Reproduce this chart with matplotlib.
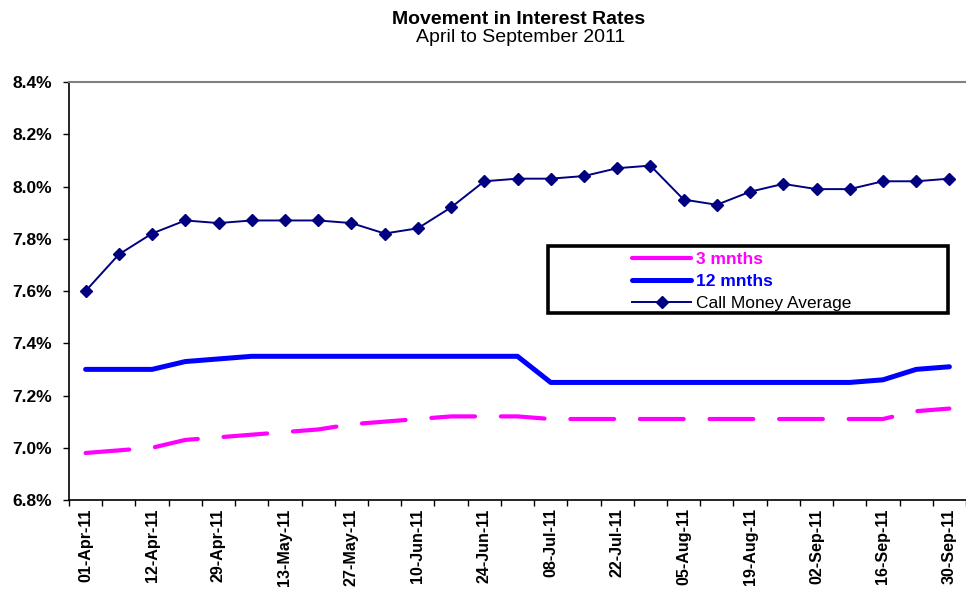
import matplotlib
matplotlib.use("Agg")
from matplotlib import pyplot as plt
from matplotlib.patches import Rectangle
import numpy as np

plt.rcParams['font.family'] = ['Liberation Sans', 'DejaVu Sans']

dates = ["01-Apr-11", "", "12-Apr-11", "", "29-Apr-11", "", "13-May-11", "", "27-May-11", "",
         "10-Jun-11", "", "24-Jun-11", "", "08-Jul-11", "", "22-Jul-11", "", "05-Aug-11", "",
         "19-Aug-11", "", "02-Sep-11", "", "16-Sep-11", "", "30-Sep-11"]
three_m = [6.98, 6.99, 7.00, 7.03, 7.04, 7.05, 7.06, 7.07, 7.09, 7.10, 7.11, 7.12, 7.12, 7.12,
           7.11, 7.11, 7.11, 7.11, 7.11, 7.11, 7.11, 7.11, 7.11, 7.11, 7.11, 7.14, 7.15]
twelve_m = [7.30, 7.30, 7.30, 7.33, 7.34, 7.35, 7.35, 7.35, 7.35, 7.35, 7.35, 7.35, 7.35, 7.35,
            7.25, 7.25, 7.25, 7.25, 7.25, 7.25, 7.25, 7.25, 7.25, 7.25, 7.26, 7.30, 7.31]
call_money = [7.60, 7.74, 7.82, 7.87, 7.86, 7.87, 7.87, 7.87, 7.86, 7.82, 7.84, 7.92, 8.02, 8.03,
              8.03, 8.04, 8.07, 8.08, 7.95, 7.93, 7.98, 8.01, 7.99, 7.99, 8.02, 8.02, 8.03]

x = np.arange(len(dates))

fig = plt.figure(figsize=(9.66, 5.9), dpi=100)
ax = fig.add_axes([69/966, 90/590, 1 - 69/966, 418/590])

ax.plot(x, three_m, color="#FF00FF", lw=3.0, linestyle=(0, (10.5, 6.2)),
        solid_capstyle="round", dash_capstyle="round", label="3 mnths")
ax.plot(x, twelve_m, color="#0000FF", lw=3.6, solid_capstyle="round", label="12 mnths")
ax.plot(x, call_money, color="#000080", lw=1.4, marker="D", markersize=6,
        label="Call Money Average")

ax.set_xlim(-0.5, len(dates) - 0.5)
ax.set_ylim(6.8, 8.4)
ax.set_yticks(np.arange(6.8, 8.41, 0.2))
ax.set_yticklabels(["%.1f%%" % v for v in np.arange(6.8, 8.41, 0.2)],
                   fontsize=12.5, fontweight="bold")
ax.tick_params(axis="y", direction="out", length=4, width=1, pad=8)

ax.set_xticks(np.arange(-0.5, len(dates), 1))
ax.set_xticklabels([])
ax.tick_params(axis="x", which="major", direction="out", length=4.5, width=1)
ax.set_xticks(x[::2], minor=True)
ax.set_xticklabels(dates[::2], minor=True, rotation=90, fontsize=11.6, fontweight="bold")
ax.tick_params(axis="x", which="minor", length=0, pad=6)

ax.spines["right"].set_visible(False)
ax.spines["top"].set_color("#808080")
ax.spines["top"].set_linewidth(1.5)
ax.spines["left"].set_linewidth(1.2)
ax.spines["bottom"].set_linewidth(1.2)

fig.text(519/966, 1 - 20/590, "Movement in Interest Rates", ha="center", va="center",
         fontsize=14, fontweight="bold")
fig.text(521/966, 1 - 37/590, "April to September 2011", ha="center", va="center",
         fontsize=14)

leg = ax.legend(loc="upper left", bbox_to_anchor=(632/966, 1 - 252/590),
                bbox_transform=fig.transFigure, frameon=False, fontsize=12.5,
                handlelength=3.4, handletextpad=0.3, labelspacing=0.38, borderpad=0,
                borderaxespad=0)
for txt, col, w in zip(leg.get_texts(), ["#FF00FF", "#0000FF", "black"],
                       ["bold", "bold", "normal"]):
    txt.set_color(col)
    txt.set_fontweight(w)
leg.get_lines()[0].set_linestyle("-")
fig.patches.append(Rectangle((548/966, 1 - 313/590), 400/966, 67/590,
                             transform=fig.transFigure, fill=False, edgecolor="black",
                             linewidth=2.6, zorder=5))

fig.savefig("out.png", dpi=100)
